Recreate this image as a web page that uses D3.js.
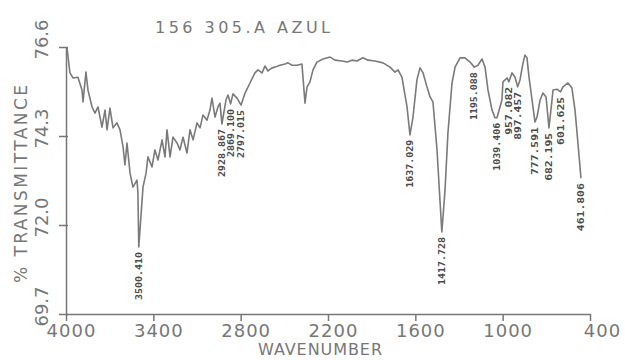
<!DOCTYPE html>
<html>
<head>
<meta charset="utf-8">
<script src="https://cdn.jsdelivr.net/npm/d3@7"></script>
<style>
  body { margin: 0; background: #fff; }
  svg { display: block; }
  .axis path, .axis line { stroke: #777; stroke-width: 1.5; }
  .axis text { fill: #777; font-family: "DejaVu Sans", sans-serif; }
  .lbl { fill: #777; font-family: "DejaVu Sans", sans-serif; }
  .peak { fill: #4a4a4a; font-family: "DejaVu Sans Mono", monospace; font-weight: bold; font-size: 9px; }
</style>
</head>
<body>
<svg id="svg"></svg>
<script>
// spectrum
const wavenumber = [3993,3973,3952,3918,3890,3883,3863,3849,3821,3801,
  3780,3753,3732,3718,3698,3677,3650,3629,3608,3595,
  3581,3560,3540,3512,3506,3500,3471,3450,3437,3409,
  3389,3368,3340,3320,3306,3285,3265,3237,3217,3196,
  3169,3148,3127,3100,3079,3059,3031,3011,2997,2976,
  2956,2942,2929,2901,2887,2869,2853,2825,2797,2770,
  2736,2702,2681,2653,2633,2612,2585,2564,2530,2495,
  2475,2447,2413,2379,2372,2358,2344,2324,2303,2276,
  2234,2186,2152,2104,2069,2035,2001,1960,1925,1877,
  1822,1774,1740,1719,1692,1657,1637,1616,1589,1568,
  1547,1520,1499,1479,1451,1431,1418,1396,1376,1348,
  1327,1293,1259,1224,1195,1170,1142,1121,1101,1073,
  1053,1039,1005,998,970,957,936,915,897,881,
  860,847,833,819,798,778,764,743,723,702,
  689,682,661,654,627,602,586,551,524,503,
  483,462];
const transmittance = [76.57,75.93,75.80,75.82,75.49,75.18,75.95,75.49,75.05,74.89,
  75.05,74.53,74.97,74.46,75.02,74.51,74.64,74.46,74.02,73.55,
  74.12,73.34,72.98,73.16,72.83,71.43,72.98,73.34,73.76,73.50,
  73.94,73.68,74.20,73.76,74.46,73.76,74.27,74.12,73.94,74.27,
  73.86,74.46,74.20,74.64,74.51,74.84,74.71,74.97,75.28,74.79,
  75.05,75.15,74.61,75.23,75.36,75.13,75.39,75.28,75.10,75.41,
  75.67,75.93,76.01,75.93,76.11,75.98,76.06,76.08,76.13,76.16,
  76.19,76.13,76.13,76.16,75.82,75.15,75.57,75.70,76.01,76.21,
  76.29,76.34,76.26,76.24,76.21,76.26,76.24,76.32,76.26,76.24,
  76.19,76.08,75.95,76.01,75.82,75.05,74.33,74.79,75.75,76.06,
  75.93,75.57,75.31,75.18,73.94,72.65,71.82,72.90,74.38,75.67,
  76.08,76.32,76.32,76.21,76.08,76.13,76.29,76.08,75.49,74.97,
  74.77,74.77,75.23,75.70,75.80,75.70,75.93,75.82,75.57,75.75,
  76.19,76.39,76.32,75.82,75.23,74.66,74.79,75.23,75.41,75.31,
  74.79,74.51,75.23,75.49,75.51,75.44,75.57,75.67,75.54,74.97,
  74.12,73.21];

const xTicks = [4000, 3400, 2800, 2200, 1600, 1000, 400];
const yTicks = [69.7, 72.0, 74.3, 76.6];

const peakWn = [3500, 2929, 2869, 2797, 1637, 1418, 1195, 1039, 957, 897, 778, 682, 602, 462];
const peakText = ['3500.410', '2928.867', '2869.100', '2797.015', '1637.029', '1417.728', '1195.088',
  '1039.406', '957.082', '897.457', '777.591', '682.195', '601.625', '461.806'];

const title = '156 305.A AZUL';

const width = 625, height = 360;
const svg = d3.select('#svg').attr('width', width).attr('height', height);

const x = d3.scaleLinear().domain([4000, 400]).range([66, 590]);
const y = d3.scaleLinear().domain([69.7, 76.6]).range([314, 47]);

const data = wavenumber.map((w, i) => ({w: w, t: transmittance[i]}));

// axes
const gx = svg.append('g')
  .attr('class', 'axis')
  .attr('transform', `translate(0,${y(69.7)})`)
  .call(d3.axisBottom(x).tickValues(xTicks).tickSize(7).tickSizeOuter(0).tickFormat(d3.format('d')));
gx.selectAll('text')
  .attr('y', 23).attr('dy', 0)
  .attr('dx', d => d === 400 ? 12 : 5)
  .style('font-size', '18px')
  .style('letter-spacing', '1px');

const gy = svg.append('g')
  .attr('class', 'axis')
  .attr('transform', `translate(${x(4000)},0)`)
  .call(d3.axisLeft(y).tickValues(yTicks).tickSize(7).tickSizeOuter(0).tickFormat(d3.format('.1f')));
gy.selectAll('.tick line').attr('x1', 2);
gy.selectAll('text')
  .attr('x', 0).attr('dy', 0)
  .attr('text-anchor', 'middle')
  .attr('transform', 'translate(-18,-8) rotate(-90)')
  .style('font-size', '18px');

// titles
svg.append('text').attr('class', 'lbl')
  .attr('x', 155).attr('y', 33)
  .attr('textLength', 175).attr('lengthAdjust', 'spacing')
  .style('font-size', '16px')
  .text(title);

svg.append('text').attr('class', 'lbl')
  .attr('x', 320).attr('y', 355)
  .attr('text-anchor', 'middle')
  .attr('textLength', 124).attr('lengthAdjust', 'spacing')
  .style('font-size', '16px')
  .text('WAVENUMBER');

svg.append('text').attr('class', 'lbl')
  .attr('transform', 'translate(27,184) rotate(-90)')
  .attr('text-anchor', 'middle')
  .attr('textLength', 198).attr('lengthAdjust', 'spacing')
  .style('font-size', '17px')
  .text('% TRANSMITTANCE');

// spectrum
const line = d3.line()
  .x(d => x(d.w))
  .y(d => y(d.t));

svg.append('path')
  .datum(data)
  .attr('fill', 'none')
  .attr('stroke', '#7a7a7a')
  .attr('stroke-width', 1.6)
  .attr('stroke-linejoin', 'round')
  .attr('d', line);

// peak labels, hanging below each minimum
const peaks = peakWn.map((w, i) => {
  const p = data.find(d => d.w === w);
  return {w: w, t: p.t, label: peakText[i]};
});

svg.append('g').selectAll('text')
  .data(peaks)
  .enter()
  .append('text')
  .attr('class', 'peak')
  .attr('text-anchor', 'end')
  .attr('textLength', 48).attr('lengthAdjust', 'spacingAndGlyphs')
  .attr('transform', d => `translate(${x(d.w) + 3},${y(d.t) + 5}) rotate(-90)`)
  .text(d => d.label);
</script>
</body>
</html>
